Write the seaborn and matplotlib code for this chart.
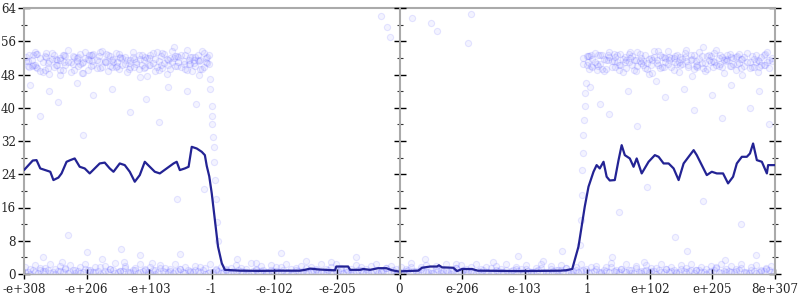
import matplotlib
matplotlib.use("Agg")
import matplotlib.pyplot as plt
import seaborn as sns
import numpy as np
import pandas as pd
from matplotlib.ticker import MultipleLocator

# ---- data ----
tick_pos = [0, 1, 2, 3, 4, 5, 6, 7, 8, 9, 10, 11, 12]
tick_labels = ["-e+308", "-e+206", "-e+103", "-1", "-e-102", "-e-205", "0",
               "e-206", "e-103", "1", "e+102", "e+205", "8e+307"]

line_x = [0.00, 0.14, 0.20, 0.26, 0.34, 0.42, 0.47, 0.55, 0.60, 0.68,
          0.74, 0.81, 0.89, 0.97, 1.05, 1.13, 1.21, 1.29, 1.37, 1.43,
          1.53, 1.61, 1.69, 1.77, 1.85, 1.93, 2.01, 2.09, 2.17, 2.28,
          2.39, 2.44, 2.49, 2.57, 2.63, 2.68, 2.76, 2.84, 2.89, 2.92,
          2.96, 3.00, 3.05, 3.10, 3.16, 3.21, 3.45, 3.77, 4.09, 4.41,
          4.49, 4.57, 4.70, 4.81, 4.94, 4.97, 4.99, 5.18, 5.21, 5.37,
          5.42, 5.53, 5.66, 5.79, 5.88, 5.99, 6.09, 6.30, 6.36, 6.49,
          6.60, 6.63, 6.68, 6.86, 6.92, 7.00, 7.16, 7.25, 7.61, 7.93,
          8.25, 8.57, 8.66, 8.76, 8.80, 8.86, 8.91, 8.96, 9.02, 9.10,
          9.15, 9.20, 9.26, 9.31, 9.36, 9.44, 9.50, 9.55, 9.60, 9.68,
          9.74, 9.79, 9.87, 9.98, 10.08, 10.14, 10.22, 10.30, 10.38, 10.46,
          10.54, 10.62, 10.70, 10.75, 10.83, 10.91, 10.99, 11.07, 11.17, 11.25,
          11.33, 11.39, 11.47, 11.55, 11.60, 11.65, 11.71, 11.79, 11.87, 11.89,
          12.00]
line_y = [25.0, 27.3, 27.4, 25.4, 25.0, 24.6, 22.6, 23.2, 24.2, 27.0,
          27.4, 27.8, 25.8, 25.4, 24.2, 25.4, 26.6, 26.8, 25.4, 24.6,
          26.6, 26.2, 24.6, 22.2, 23.8, 27.0, 25.8, 24.6, 24.2, 25.4,
          26.6, 27.0, 25.0, 25.4, 25.8, 30.6, 30.2, 29.4, 28.6, 26.0,
          23.5, 19.4, 13.0, 6.6, 2.6, 1.0, 0.8, 0.75, 0.8, 0.8,
          1.0, 1.3, 1.1, 1.0, 0.9, 0.9, 1.8, 1.8, 1.0, 1.0,
          1.2, 1.0, 1.4, 1.4, 0.9, 0.6, 0.7, 0.8, 1.5, 1.8,
          1.8, 2.1, 1.6, 1.5, 0.7, 1.2, 1.2, 0.8, 0.75, 0.7,
          0.75, 0.8, 0.9, 1.2, 3.4, 6.6, 11.4, 16.2, 21.0, 24.6,
          26.2, 25.4, 27.0, 23.4, 22.5, 22.6, 27.4, 31.0, 28.6, 27.8,
          25.8, 27.8, 24.2, 27.0, 28.6, 28.2, 26.6, 26.6, 25.4, 22.6,
          26.6, 28.2, 29.8, 28.6, 26.2, 23.8, 24.6, 24.2, 24.2, 21.8,
          23.4, 26.6, 28.2, 28.2, 29.0, 31.4, 27.4, 27.0, 24.2, 26.2,
          26.2]

upper_left_x = [0.03, 0.08, 0.12, 0.17, 0.21, 0.26, 0.30, 0.35, 0.39, 0.44,
                0.48, 0.53, 0.57, 0.62, 0.66, 0.71, 0.75, 0.80, 0.84, 0.89,
                0.93, 0.98, 1.02, 1.07, 1.11, 1.16, 1.20, 1.25, 1.29, 1.34,
                1.38, 1.43, 1.47, 1.52, 1.56, 1.61, 1.65, 1.70, 1.74, 1.79,
                1.83, 1.88, 1.92, 1.97, 2.01, 2.06, 2.10, 2.15, 2.19, 2.24,
                2.28, 2.33, 2.37, 2.42, 2.46, 2.51, 2.55, 2.60, 2.64, 2.69,
                2.73, 2.78, 2.82, 2.87, 2.91, 2.95, 0.06, 0.19, 0.33, 0.51,
                0.64, 0.78, 0.95, 1.09, 1.22, 1.40, 1.54, 1.68, 1.85, 1.99,
                2.12, 2.30, 2.44, 2.57, 2.71, 2.85, 2.93, 0.40, 0.87, 1.31,
                1.76, 2.21, 2.66, 0.15, 0.58, 1.04, 1.49, 1.94, 2.39, 2.80]
upper_left_y = [51.2, 52.8, 50.1, 53.4, 49.6, 51.9, 48.7, 52.3, 50.8, 53.1,
                49.9, 51.5, 47.9, 52.6, 50.4, 53.8, 51.1, 49.2, 52.0, 50.6,
                48.4, 53.3, 51.7, 50.0, 52.9, 49.5, 51.3, 53.6, 50.9, 48.9,
                52.4, 51.0, 49.8, 53.0, 50.3, 52.2, 48.6, 51.6, 53.5, 50.5,
                49.4, 52.7, 51.4, 47.7, 50.2, 53.2, 51.8, 49.1, 52.5, 50.7,
                48.2, 51.9, 53.7, 50.1, 52.1, 49.7, 51.2, 53.9, 50.6, 48.8,
                52.3, 51.5, 49.3, 53.1, 50.9, 52.6, 50.0, 53.0, 49.1, 51.7,
                52.8, 50.5, 48.3, 51.3, 53.4, 49.8, 52.0, 50.7, 47.4, 51.9,
                53.3, 50.2, 52.5, 49.4, 51.6, 53.6, 50.8, 48.1, 52.2, 51.0,
                49.9, 53.1, 50.6, 52.7, 49.0, 51.5, 50.1, 52.3, 54.6, 48.0]
upper_left_y2 = [52.2, 49.8, 51.6, 50.4, 52.9, 48.9, 51.1, 53.2, 49.5, 51.8,
                 52.6, 50.2, 51.4, 49.2, 52.5, 50.9, 48.6, 52.1, 51.3, 53.0,
                 50.7, 51.9, 49.0, 52.8, 50.3, 51.6, 52.4, 49.7, 51.2, 52.7,
                 50.0, 51.8, 53.1, 49.3, 52.0, 50.6, 51.5, 49.9, 52.3, 51.0,
                 52.8, 50.4, 49.6, 51.9, 52.6, 50.8, 48.8, 51.3, 50.2, 52.9,
                 51.7, 49.4, 50.9, 52.4, 51.1, 52.8, 50.5, 49.2, 51.6, 52.2,
                 50.1, 52.7, 51.4, 49.8, 52.0, 50.6, 51.2, 49.7, 52.5, 50.3,
                 51.1, 52.4, 50.9, 52.8, 49.6, 51.5, 52.2, 49.3, 51.8, 50.4,
                 49.8, 51.6, 50.1, 52.6, 50.7, 49.4, 52.1, 51.3, 50.0, 52.9,
                 51.7, 49.5, 52.3, 50.2, 51.9, 52.6, 51.0, 49.9, 52.0, 51.2]

upper_right_x = [8.94, 8.99, 9.03, 9.08, 9.12, 9.17, 9.21, 9.26, 9.30, 9.35,
                 9.39, 9.44, 9.48, 9.53, 9.57, 9.62, 9.66, 9.71, 9.75, 9.80,
                 9.84, 9.89, 9.93, 9.98, 10.02, 10.07, 10.11, 10.16, 10.20, 10.25,
                 10.29, 10.34, 10.38, 10.43, 10.47, 10.52, 10.56, 10.61, 10.65, 10.70,
                 10.74, 10.79, 10.83, 10.88, 10.92, 10.97, 11.01, 11.06, 11.10, 11.15,
                 11.19, 11.24, 11.28, 11.33, 11.37, 11.42, 11.46, 11.51, 11.55, 11.60,
                 11.64, 11.69, 11.73, 11.78, 11.82, 11.87, 11.91, 11.96, 9.01, 9.15,
                 9.33, 9.50, 9.68, 9.86, 10.04, 10.22, 10.40, 10.58, 10.76, 10.94,
                 11.12, 11.30, 11.48, 11.66, 11.84, 9.24, 9.60, 9.95, 10.31, 10.67,
                 11.03, 11.39, 11.75, 9.06, 9.42, 9.78, 10.13, 10.49, 10.85, 11.21]
upper_right_y = [50.6, 52.4, 49.3, 51.8, 53.2, 50.0, 52.7, 48.8, 51.4, 53.5,
                 49.7, 52.1, 50.9, 53.0, 48.5, 51.6, 52.9, 50.3, 49.1, 53.3,
                 51.2, 50.4, 52.6, 48.2, 51.9, 53.7, 50.7, 49.5, 52.3, 51.0,
                 53.6, 49.9, 52.0, 50.5, 48.6, 51.7, 53.1, 50.2, 52.8, 49.4,
                 51.3, 53.4, 50.8, 48.9, 52.5, 51.1, 49.8, 53.8, 50.1, 52.2,
                 48.4, 51.5, 53.0, 50.6, 49.2, 52.9, 51.8, 50.0, 53.2, 49.6,
                 52.4, 51.0, 48.7, 52.1, 50.3, 53.5, 51.6, 52.0, 51.1, 49.0,
                 52.6, 50.4, 53.3, 51.9, 48.3, 52.2, 50.9, 53.9, 49.7, 51.4,
                 52.7, 50.1, 48.0, 51.7, 53.0, 49.3, 52.3, 50.8, 51.5, 47.6,
                 53.1, 50.5, 49.9, 52.8, 51.2, 48.8, 53.6, 50.2, 54.5, 51.3]
upper_right_y2 = [51.9, 50.2, 52.5, 49.9, 51.1, 52.8, 50.6, 51.7, 49.4, 52.2,
                  51.3, 49.8, 52.6, 50.4, 51.8, 49.6, 50.9, 52.4, 51.5, 50.1,
                  52.9, 51.2, 49.5, 51.8, 50.3, 52.1, 51.6, 52.7, 49.9, 52.0,
                  50.6, 51.9, 49.2, 52.6, 51.0, 50.5, 52.3, 49.7, 51.4, 52.8,
                  50.0, 51.7, 52.4, 50.7, 49.3, 52.5, 51.2, 50.4, 52.0, 49.8,
                  51.6, 52.7, 50.1, 51.9, 52.3, 50.8, 49.5, 52.2, 51.1, 50.9,
                  49.9, 52.6, 51.5, 50.2, 52.8, 51.0, 49.6, 51.3, 52.4, 50.5,
                  51.6, 49.1, 52.0, 50.8, 51.4, 49.7, 52.5, 51.2, 50.3, 52.7,
                  50.6, 52.1, 51.8, 49.8, 50.4, 52.6, 51.0, 49.4, 52.2, 51.7,
                  50.9, 52.4, 51.3, 50.0, 52.9, 51.5, 50.2, 52.1, 49.5, 51.8]

bottom_x = [0.02, 0.10, 0.18, 0.26, 0.34, 0.42, 0.50, 0.58, 0.66, 0.74,
            0.82, 0.90, 0.98, 1.06, 1.14, 1.22, 1.30, 1.38, 1.46, 1.54,
            1.62, 1.70, 1.78, 1.86, 1.94, 2.02, 2.10, 2.18, 2.26, 2.34,
            2.42, 2.50, 2.58, 2.66, 2.74, 2.82, 2.90, 2.98, 3.06, 3.14,
            3.22, 3.30, 3.38, 3.46, 3.54, 3.62, 3.70, 3.78, 3.86, 3.94,
            4.02, 4.10, 4.18, 4.26, 4.34, 4.42, 4.50, 4.58, 4.66, 4.74,
            4.82, 4.90, 4.98, 5.06, 5.14, 5.22, 5.30, 5.38, 5.46, 5.54,
            5.62, 5.70, 5.78, 5.86, 5.94, 6.02, 6.10, 6.18, 6.26, 6.34,
            6.42, 6.50, 6.58, 6.66, 6.74, 6.82, 6.90, 6.98, 7.06, 7.14,
            7.22, 7.30, 7.38, 7.46, 7.54, 7.62, 7.70, 7.78, 7.86, 7.94,
            8.02, 8.10, 8.18, 8.26, 8.34, 8.42, 8.50, 8.58, 8.66, 8.74,
            8.82, 8.90, 8.98, 9.06, 9.14, 9.22, 9.30, 9.38, 9.46, 9.54,
            9.62, 9.70, 9.78, 9.86, 9.94, 10.02, 10.10, 10.18, 10.26, 10.34,
            10.42, 10.50, 10.58, 10.66, 10.74, 10.82, 10.90, 10.98, 11.06, 11.14,
            11.22, 11.30, 11.38, 11.46, 11.54, 11.62, 11.70, 11.78, 11.86, 11.94]
bottom_x2 = [0.06, 0.14, 0.22, 0.30, 0.38, 0.46, 0.54, 0.62, 0.70, 0.78,
             0.86, 0.94, 1.02, 1.10, 1.18, 1.26, 1.34, 1.42, 1.50, 1.58,
             1.66, 1.74, 1.82, 1.90, 1.98, 2.06, 2.14, 2.22, 2.30, 2.38,
             2.46, 2.54, 2.62, 2.70, 2.78, 2.86, 2.94, 3.02, 3.10, 3.18,
             3.26, 3.34, 3.42, 3.50, 3.58, 3.66, 3.74, 3.82, 3.90, 3.98,
             4.06, 4.14, 4.22, 4.30, 4.38, 4.46, 4.54, 4.62, 4.70, 4.78,
             4.86, 4.94, 5.02, 5.10, 5.18, 5.26, 5.34, 5.42, 5.50, 5.58,
             5.66, 5.74, 5.82, 5.90, 5.98, 6.06, 6.14, 6.22, 6.30, 6.38,
             6.46, 6.54, 6.62, 6.70, 6.78, 6.86, 6.94, 7.02, 7.10, 7.18,
             7.26, 7.34, 7.42, 7.50, 7.58, 7.66, 7.74, 7.82, 7.90, 7.98,
             8.06, 8.14, 8.22, 8.30, 8.38, 8.46, 8.54, 8.62, 8.70, 8.78,
             8.86, 8.94, 9.02, 9.10, 9.18, 9.26, 9.34, 9.42, 9.50, 9.58,
             9.66, 9.74, 9.82, 9.90, 9.98, 10.06, 10.14, 10.22, 10.30, 10.38,
             10.46, 10.54, 10.62, 10.70, 10.78, 10.86, 10.94, 11.02, 11.10, 11.18,
             11.26, 11.34, 11.42, 11.50, 11.58, 11.66, 11.74, 11.82, 11.90, 11.98]
bottom_y1 = [0.6, 1.1, 0.4, 1.4, 0.8, 0.3, 1.2, 0.7, 1.5, 0.5,
             1.0, 0.2, 1.3, 0.9, 0.4, 1.6, 0.7, 1.1, 0.3, 0.8,
             1.4, 0.5, 1.0, 0.6, 1.2, 0.3, 0.9, 1.5, 0.4, 1.1,
             0.7, 1.3, 0.2, 0.8, 1.0, 0.5, 1.4, 0.6, 1.2, 0.3,
             0.9, 1.5, 0.4, 0.7, 1.1, 0.2, 1.3, 0.8, 0.5, 1.0,
             1.6, 0.6, 0.3, 1.2, 0.9, 0.4, 1.4, 0.7, 1.0, 0.5,
             1.1, 0.3, 0.8, 1.5, 0.6, 1.2, 0.2, 0.9, 1.3, 0.4,
             1.0, 0.7, 1.4, 0.5, 1.1, 0.3, 0.8, 1.6, 0.6, 1.2,
             0.4, 0.9, 1.3, 0.2, 1.0, 0.7, 1.5, 0.5, 1.1, 0.8,
             0.3, 1.2, 0.6, 1.4, 0.9, 0.4, 1.0, 0.7, 1.3, 0.2,
             1.1, 0.5, 0.8, 1.5, 0.6, 1.2, 0.3, 0.9, 1.4, 0.4,
             1.0, 0.7, 1.3, 0.5, 1.1, 0.2, 0.8, 1.6, 0.6, 1.2,
             0.4, 0.9, 1.4, 0.3, 1.0, 0.7, 1.5, 0.5, 1.1, 0.8,
             0.2, 1.3, 0.6, 1.0, 0.9, 0.4, 1.2, 0.7, 1.4, 0.3,
             1.1, 0.5, 0.8, 1.5, 0.6, 1.0, 0.3, 0.9, 1.3, 0.5]
bottom_y2 = [1.8, 0.1, 2.2, 0.9, 1.5, 2.5, 0.0, 1.9, 1.2, 2.1,
             0.3, 1.7, 2.4, 0.6, 1.6, 0.1, 2.0, 1.3, 2.6, 0.8,
             1.9, 0.2, 1.5, 2.3, 1.0, 1.8, 0.0, 2.2, 1.4, 0.7,
             2.5, 1.1, 1.7, 0.4, 2.0, 1.6, 0.1, 2.4, 0.9, 1.8,
             1.3, 0.2, 2.1, 1.5, 0.6, 2.6, 1.0, 1.9, 0.3, 2.2,
             0.8, 1.7, 2.4, 0.0, 1.4, 2.0, 0.5, 1.8, 1.1, 2.3,
             0.2, 1.6, 2.5, 0.9, 1.3, 0.1, 2.1, 1.7, 0.6, 1.9,
             2.4, 0.4, 1.5, 2.0, 0.0, 1.8, 1.2, 2.6, 0.7, 1.6,
             2.2, 0.3, 1.9, 1.0, 2.5, 0.1, 1.4, 2.1, 0.8, 1.7,
             2.3, 0.5, 1.6, 0.2, 2.0, 1.3, 2.4, 0.0, 1.8, 1.1,
             2.2, 0.6, 1.5, 2.5, 0.3, 1.9, 0.9, 2.1, 1.4, 0.1,
             1.7, 2.4, 0.7, 1.8, 2.0, 0.4, 1.6, 2.6, 1.0, 1.3,
             2.3, 0.2, 1.9, 0.8, 2.2, 1.5, 0.0, 2.5, 1.2, 1.7,
             0.5, 2.1, 1.4, 2.4, 0.9, 1.8, 0.1, 2.0, 1.6, 2.3,
             0.6, 1.9, 1.1, 2.5, 0.3, 1.7, 2.2, 0.8, 1.5, 2.0]
bottom_y3 = [0.5, 0.9, 0.3, 0.7, 1.0, 0.4, 0.8, 0.6, 0.2, 0.9,
             0.7, 0.4, 1.0, 0.5, 0.8, 0.3, 0.6, 0.9, 0.4, 0.7,
             0.5, 1.0, 0.3, 0.8, 0.6, 0.9, 0.4, 0.7, 0.5, 0.2,
             0.8, 0.6, 1.0, 0.4, 0.7, 0.9, 0.3, 0.5, 0.8, 0.6,
             0.4, 0.7, 0.9, 0.5, 0.3, 0.8, 0.6, 1.0, 0.4, 0.7,
             0.5, 0.9, 0.6, 0.3, 0.8, 0.7, 0.4, 1.0, 0.5, 0.6,
             0.9, 0.4, 0.7, 0.3, 0.8, 0.5, 0.9, 0.6, 0.4, 0.7,
             0.3, 0.8, 0.5, 1.0, 0.6, 0.4, 0.9, 0.7, 0.5, 0.8,
             0.6, 0.3, 0.9, 0.7, 0.4, 0.8, 0.5, 1.0, 0.6, 0.3,
             0.7, 0.9, 0.4, 0.6, 0.8, 0.5, 0.3, 0.9, 0.7, 0.4,
             0.8, 0.6, 1.0, 0.5, 0.3, 0.7, 0.9, 0.4, 0.6, 0.8,
             0.5, 0.9, 0.3, 0.7, 0.6, 1.0, 0.4, 0.8, 0.5, 0.7,
             0.9, 0.3, 0.6, 0.8, 0.4, 0.7, 1.0, 0.5, 0.6, 0.9,
             0.4, 0.8, 0.7, 0.3, 0.9, 0.5, 0.6, 1.0, 0.4, 0.7,
             0.8, 0.5, 0.9, 0.6, 0.3, 0.7, 0.4, 0.8, 1.0, 0.6]

outlier_x = [0.10, 0.25, 0.40, 0.55, 0.70, 0.85, 0.95, 1.10, 1.25, 1.40,
             1.55, 1.70, 1.85, 1.95, 2.15, 2.30, 2.45, 2.60, 2.75, 2.88,
             0.30, 0.60, 1.00, 1.60, 2.05, 2.50,
             2.97, 2.98, 3.00, 3.00, 3.01, 3.02, 3.03, 3.04, 3.05, 3.06, 3.08, 3.10,
             3.40, 3.70, 4.10, 4.50, 4.90, 5.30, 5.70, 5.80, 5.85, 6.20,
             6.50, 6.60, 7.10, 7.15, 7.50, 7.90, 8.30, 8.60, 6.40, 6.90,
             8.88, 8.90, 8.91, 8.92, 8.93, 8.94, 8.95, 8.96, 8.97, 8.98,
             9.05, 9.20, 9.35, 9.50, 9.65, 9.80, 9.95, 10.10, 10.25, 10.40,
             10.55, 10.70, 10.85, 11.00, 11.15, 11.30, 11.45, 11.60, 11.75, 11.90,
             9.40, 9.90, 10.60, 11.20, 11.70]
outlier_y = [45.5, 38.0, 44.0, 41.5, 9.5, 46.0, 33.5, 43.0, 3.5, 44.5,
             6.0, 39.0, 4.5, 42.0, 36.5, 45.0, 18.0, 44.0, 41.0, 20.5,
             4.0, 2.8, 5.2, 3.0, 2.7, 4.8,
             47.0, 44.5, 40.5, 38.0, 36.0, 33.0, 30.5, 27.0, 22.5, 18.0, 12.5, 8.0,
             3.5, 2.6, 5.0, 3.2, 2.8, 4.1, 62.0, 59.5, 57.0, 61.5,
             60.3, 58.5, 55.5, 62.5, 2.9, 4.4, 3.1, 5.5, 3.6, 2.5,
             7.0, 13.0, 19.0, 25.0, 29.0, 33.5, 37.0, 40.5, 43.5, 46.0,
             45.0, 41.0, 38.5, 15.0, 44.0, 35.5, 21.0, 46.5, 42.5, 9.0,
             44.5, 39.5, 17.5, 43.0, 37.5, 45.5, 12.0, 40.0, 44.0, 36.0,
             4.0, 2.8, 5.5, 3.3, 4.6]

# ---- figure ----
sns.set_style("white")
plt.rcParams["font.family"] = ["DejaVu Serif"]

fig = plt.figure(figsize=(8, 3), dpi=100)
rect = [24 / 800, 1 - 274 / 300, 751 / 800, 266 / 300]
ax = fig.add_axes(rect)

points = pd.DataFrame({
    "x": (upper_left_x + upper_left_x + upper_right_x + upper_right_x
          + bottom_x + bottom_x + bottom_x2 + outlier_x),
    "y": (upper_left_y + upper_left_y2 + upper_right_y + upper_right_y2
          + bottom_y1 + bottom_y2 + bottom_y3 + outlier_y),
})
sns.scatterplot(data=points, x="x", y="y", ax=ax, s=20, marker="o",
                facecolor=(0.35, 0.35, 1.0, 0.07),
                edgecolor=(0.3, 0.3, 1.0, 0.13), linewidth=0.8,
                legend=False, zorder=2)

line = pd.DataFrame({"x": line_x, "y": line_y})
sns.lineplot(data=line, x="x", y="y", ax=ax, color="#232394",
             linewidth=1.6, sort=False, zorder=3)

ax.set_xlim(0, 12)
ax.set_ylim(0, 64)
ax.set_xlabel("")
ax.set_ylabel("")
ax.set_xticks(tick_pos)
ax.set_xticklabels(tick_labels)
ax.yaxis.set_major_locator(MultipleLocator(8))
ax.yaxis.set_minor_locator(MultipleLocator(4))

grey = "#aaaaaa"
for side in ["left", "right", "top", "bottom"]:
    ax.spines[side].set_visible(True)
    ax.spines[side].set_color(grey)
    ax.spines[side].set_linewidth(1.5)
ax.spines["bottom"].set_linewidth(1.0)

ax.tick_params(axis="y", which="major", direction="inout", length=8.5,
               width=1.0, color="black", left=True, right=True,
               labelsize=8.6, pad=1.5)
ax.tick_params(axis="y", which="minor", direction="inout", length=4.5,
               width=0.8, color="#333333", left=True, right=True)
ax.tick_params(axis="x", which="major", direction="inout", length=7.5,
               width=1.0, color="black", bottom=True, top=False,
               labelsize=8.6, pad=3)

# central zero axis with its own ticks (decoration only)
axc = fig.add_axes([rect[0] + rect[2] / 2, rect[1], 1e-6, rect[3]])
axc.set_ylim(0, 64)
axc.set_xticks([])
axc.patch.set_alpha(0)
for side in ["right", "top", "bottom"]:
    axc.spines[side].set_visible(False)
axc.spines["left"].set_visible(True)
axc.spines["left"].set_color(grey)
axc.spines["left"].set_linewidth(1.5)
axc.yaxis.set_major_locator(MultipleLocator(8))
axc.yaxis.set_minor_locator(MultipleLocator(4))
axc.tick_params(axis="y", which="major", direction="inout", length=8.5,
                width=1.0, color="black", left=True, right=False,
                labelleft=False, labelright=False)
axc.tick_params(axis="y", which="minor", direction="inout", length=4.5,
                width=0.8, color="#333333", left=True, right=False)

fig.savefig("out.png", dpi=100)
